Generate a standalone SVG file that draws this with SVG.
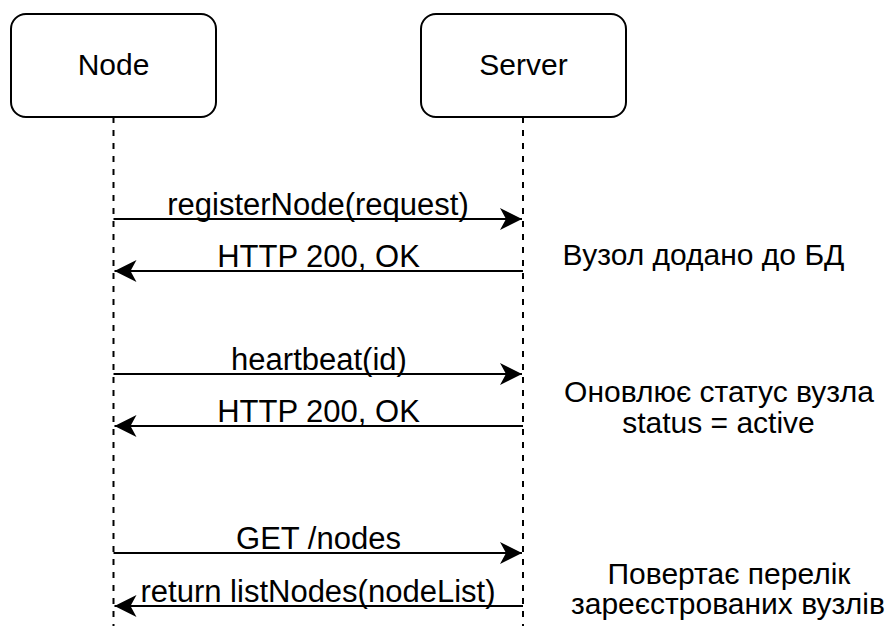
<svg xmlns="http://www.w3.org/2000/svg" width="893" height="626" viewBox="0 0 893 626">
<style>
.box{fill:#fff;stroke:#000;stroke-width:2}
.life{stroke:#000;stroke-width:2;stroke-dasharray:6 7;fill:none}
.msg{stroke:#000;stroke-width:2;fill:none}
text{font-family:"Liberation Sans",Arial,sans-serif;font-size:30px;fill:#000;text-anchor:middle}
.ml{font-size:31px}
.note{font-size:30px}
</style>
<defs>
<marker id="ah" viewBox="0 0 24 24" refX="23" refY="12" markerWidth="24" markerHeight="24" markerUnits="userSpaceOnUse" orient="auto">
<path d="M23,12 L1,1 L7,12 L1,23 Z" fill="#000"/>
</marker>
</defs>
<g id="lifelines">
<line class="life" x1="113.5" y1="117" x2="113.5" y2="626"/>
<line class="life" x1="523" y1="117" x2="523" y2="626"/>
</g>
<g id="node">
<rect class="box" x="11" y="14" width="205" height="103" rx="15"/>
<text x="113.5" y="75">Node</text>
</g>
<g id="server">
<rect class="box" x="421" y="14" width="205" height="103" rx="15"/>
<text x="523.5" y="75">Server</text>
</g>
<g id="connectors">
<line class="msg" x1="113.5" y1="219" x2="522" y2="219" marker-end="url(#ah)"/>
<line class="msg" x1="523" y1="271" x2="114.5" y2="271" marker-end="url(#ah)"/>
<line class="msg" x1="113.5" y1="374" x2="522" y2="374" marker-end="url(#ah)"/>
<line class="msg" x1="523" y1="426" x2="114.5" y2="426" marker-end="url(#ah)"/>
<line class="msg" x1="113.5" y1="553" x2="522" y2="553" marker-end="url(#ah)"/>
<line class="msg" x1="523" y1="606" x2="114.5" y2="606" marker-end="url(#ah)"/>
</g>
<g id="labels">
<text class="ml" x="318" y="215">registerNode(request)</text>
<text class="ml" x="318.5" y="267">HTTP 200, OK</text>
<text class="ml" x="319" y="370">heartbeat(id)</text>
<text class="ml" x="318.5" y="422">HTTP 200, OK</text>
<text class="ml" x="318.5" y="549">GET /nodes</text>
<text class="ml" x="318" y="602">return listNodes(nodeList)</text>
</g>
<g id="notes">
<text class="note" x="703.5" y="265">Вузол додано до БД</text>
<text class="note" x="719" y="402">Оновлює статус вузла</text>
<text class="note" x="718.5" y="433">status = active</text>
<text class="note" x="729" y="584">Повертає перелік</text>
<text class="note" x="728" y="614">зареєстрованих вузлів</text>
</g>
</svg>
